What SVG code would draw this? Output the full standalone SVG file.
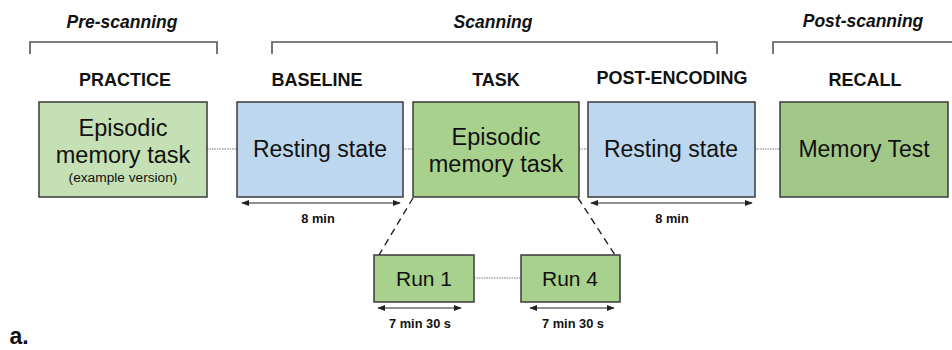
<svg xmlns="http://www.w3.org/2000/svg" width="952" height="350" viewBox="0 0 952 350">
  <defs>
    <marker id="ah" viewBox="0 0 10 10" refX="9" refY="5" markerWidth="8" markerHeight="8" markerUnits="userSpaceOnUse" orient="auto-start-reverse">
      <path d="M0,1 L10,5 L0,9 Z" fill="#222"/>
    </marker>
    <style>
      text { font-family: "Liberation Sans", Arial, sans-serif; fill: #111; text-anchor: middle; }
      .phase { font-size: 17.5px; font-weight: bold; font-style: italic; }
      .stage { font-size: 18px; font-weight: bold; }
      .big { font-size: 23px; }
      .mid { font-size: 23.5px; }
      .small { font-size: 13.7px; }
      .dur { font-size: 12.8px; font-weight: bold; }
      .run { font-size: 21px; }
      .bracket { fill: none; stroke: #555; stroke-width: 1.6; }
      .box { stroke: #3a3a3a; stroke-width: 1.5; }
      .light { fill: #c5e0b4; }
      .green { fill: #a9d18e; }
      .deep { fill: #a1c888; }
      .blue { fill: #bdd7ee; }
      .dot { stroke: #777; stroke-width: 1.2; stroke-dasharray: 1.5 1; fill: none; }
      .dash { stroke: #222; stroke-width: 1.4; stroke-dasharray: 7 5; fill: none; }
      .span { stroke: #222; stroke-width: 1.2; fill: none; marker-start: url(#ah); marker-end: url(#ah); }
    </style>
  </defs>

  <!-- phase brackets -->
  <g id="phases">
    <path class="bracket" d="M30,54 V42 H217 V54"/>
    <text class="phase" x="122" y="28">Pre-scanning</text>
    <path class="bracket" d="M272,54 V42 H717 V54"/>
    <text class="phase" x="493" y="28">Scanning</text>
    <path class="bracket" d="M773,54 V42 H952"/>
    <text class="phase" x="863" y="27">Post-scanning</text>
  </g>

  <!-- connectors -->
  <g id="connectors">
    <line class="dot" x1="207" y1="149" x2="237" y2="149"/>
    <line class="dot" x1="403" y1="149" x2="413" y2="149"/>
    <line class="dot" x1="579" y1="149" x2="588" y2="149"/>
    <line class="dot" x1="755" y1="149" x2="780" y2="149"/>
    <line class="dot" x1="474" y1="278" x2="521" y2="278"/>
    <line class="dash" x1="413" y1="198" x2="379" y2="255"/>
    <line class="dash" x1="578" y1="198" x2="615" y2="255"/>
    <line class="span" x1="242" y1="203" x2="400" y2="203"/>
    <line class="span" x1="591" y1="203" x2="752" y2="203"/>
    <line class="span" x1="378" y1="308" x2="461" y2="308"/>
    <line class="span" x1="530" y1="308" x2="614" y2="308"/>
  </g>

  <g id="practice">
    <text class="stage" x="125" y="86">PRACTICE</text>
    <rect class="box light" x="39" y="102" width="168" height="95"/>
    <text class="mid" x="123" y="136">Episodic</text>
    <text class="mid" x="123" y="163">memory task</text>
    <text class="small" x="123" y="182">(example version)</text>
  </g>

  <g id="baseline">
    <text class="stage" x="317" y="86">BASELINE</text>
    <rect class="box blue" x="237" y="102" width="166" height="95"/>
    <text class="big" x="320" y="157">Resting state</text>
    <text class="dur" x="318" y="223">8 min</text>
  </g>

  <g id="task">
    <text class="stage" x="496" y="86">TASK</text>
    <rect class="box green" x="413" y="102" width="166" height="95"/>
    <text class="mid" x="496" y="145">Episodic</text>
    <text class="mid" x="496" y="172">memory task</text>
  </g>

  <g id="post-encoding">
    <text class="stage" x="672" y="84">POST-ENCODING</text>
    <rect class="box blue" x="588" y="102" width="167" height="95"/>
    <text class="big" x="671" y="157">Resting state</text>
    <text class="dur" x="672" y="223">8 min</text>
  </g>

  <g id="recall">
    <text class="stage" x="865" y="86">RECALL</text>
    <rect class="box deep" x="780" y="102" width="168" height="95"/>
    <text class="big" x="864" y="157">Memory Test</text>
  </g>

  <g id="run1">
    <rect class="box green" x="374" y="255" width="100" height="47"/>
    <text class="run" x="424" y="286">Run 1</text>
    <text class="dur" x="420" y="328">7 min 30 s</text>
  </g>

  <g id="run4">
    <rect class="box green" x="521" y="255" width="99" height="47"/>
    <text class="run" x="570" y="286">Run 4</text>
    <text class="dur" x="573" y="328">7 min 30 s</text>
  </g>

  <text x="19" y="344" style="font-size:23px;font-weight:bold">a.</text>
</svg>
